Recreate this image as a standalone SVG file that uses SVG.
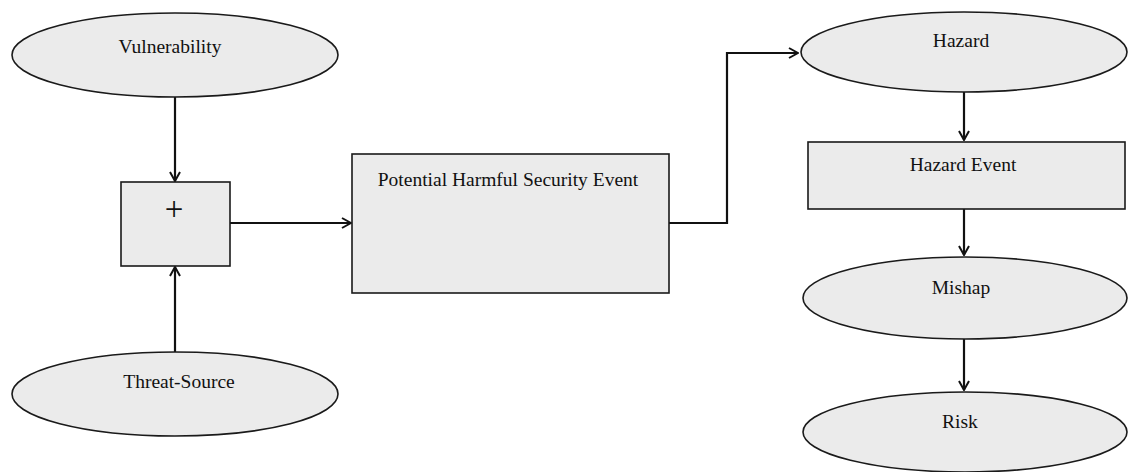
<svg xmlns="http://www.w3.org/2000/svg" width="1129" height="472" viewBox="0 0 1129 472">
  <style>
    .shape { fill: #ebebeb; stroke: #1a1a1a; stroke-width: 1.6; }
    .label { font-family: "Liberation Serif", "Times New Roman", serif; font-size: 19.5px; fill: #111; text-anchor: middle; }
    .plus { font-family: "Liberation Serif", "Times New Roman", serif; font-size: 33px; fill: #111; text-anchor: middle; }
    .conn { fill: none; stroke: #111; stroke-width: 2.2; marker-end: url(#arrow); }
  </style>
  <defs>
    <marker id="arrow" viewBox="0 0 12 12" refX="11" refY="6" markerWidth="12" markerHeight="12" markerUnits="userSpaceOnUse" orient="auto">
      <path d="M2,1 L11,6 L2,11" fill="none" stroke="#111" stroke-width="2"/>
    </marker>
  </defs>

  <g id="connectors">
    <line class="conn" x1="175" y1="97" x2="175" y2="181"/>
    <line class="conn" x1="175" y1="352" x2="175" y2="267"/>
    <line class="conn" x1="230" y1="223" x2="351" y2="223"/>
    <polyline class="conn" points="669,223 727,223 727,53 798,53"/>
    <line class="conn" x1="964" y1="92" x2="964" y2="140"/>
    <line class="conn" x1="964" y1="209" x2="964" y2="255"/>
    <line class="conn" x1="964" y1="339" x2="964" y2="390"/>
  </g>

  <g id="vulnerability">
    <ellipse class="shape" cx="175" cy="55" rx="163" ry="42"/>
    <text class="label" x="170" y="53">Vulnerability</text>
  </g>

  <g id="combine">
    <rect class="shape" x="121" y="182" width="109" height="84"/>
    <text class="plus" x="174" y="220">+</text>
  </g>

  <g id="threat-source">
    <ellipse class="shape" cx="175" cy="394" rx="163" ry="42"/>
    <text class="label" x="179" y="388">Threat-Source</text>
  </g>

  <g id="potential-event">
    <rect class="shape" x="352" y="154" width="317" height="139"/>
    <text class="label" x="508" y="186">Potential Harmful Security Event</text>
  </g>

  <g id="hazard">
    <ellipse class="shape" cx="964" cy="52" rx="163" ry="40"/>
    <text class="label" x="961" y="47">Hazard</text>
  </g>

  <g id="hazard-event">
    <rect class="shape" x="808" y="142" width="317" height="67"/>
    <text class="label" x="963" y="171">Hazard Event</text>
  </g>

  <g id="mishap">
    <ellipse class="shape" cx="965" cy="298" rx="162" ry="41"/>
    <text class="label" x="961" y="294">Mishap</text>
  </g>

  <g id="risk">
    <ellipse class="shape" cx="965" cy="432" rx="162" ry="40"/>
    <text class="label" x="960" y="428">Risk</text>
  </g>
</svg>
